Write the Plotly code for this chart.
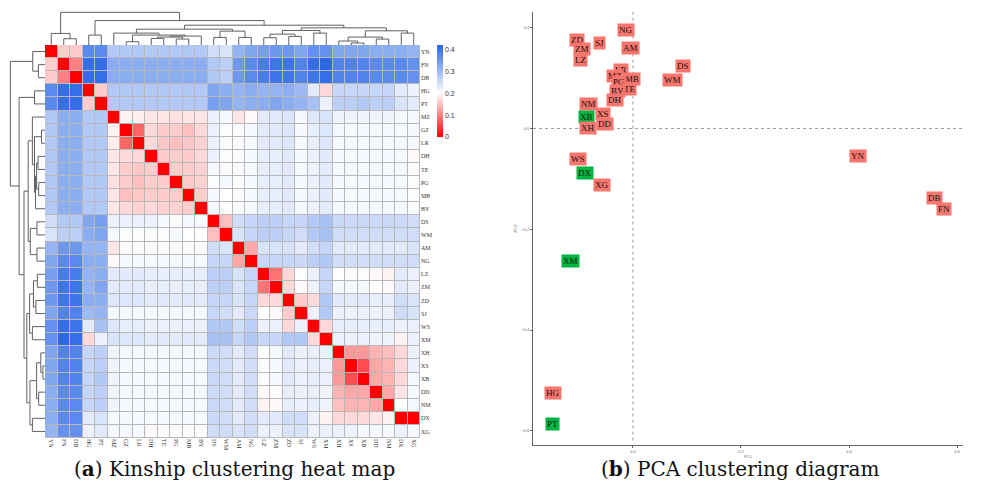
import plotly.graph_objects as go

# ---------------- data ----------------
labels = ["YN","FN","DB","HG","PT","MZ","GZ","LR","DH","TE","PG","MB","BY","DS","WM",
          "AM","NG","LZ","ZM","ZD","SJ","WS","XM","XH","XS","XB","DD","NM","DX","XG"]

kinship = [
 [0,.16,.16,.37,.37,.28,.28,.28,.28,.28,.28,.28,.28,.25,.24,.31,.33,.34,.35,.35,.33,.36,.36,.33,.33,.33,.32,.32,.32,.31],
 [.16,0,.10,.41,.41,.32,.32,.32,.32,.32,.32,.32,.32,.28,.27,.35,.37,.39,.40,.40,.38,.41,.42,.38,.38,.38,.37,.37,.37,.36],
 [.16,.10,0,.41,.41,.32,.32,.32,.32,.32,.32,.32,.32,.28,.27,.35,.37,.39,.40,.40,.38,.40,.41,.38,.38,.38,.37,.37,.37,.36],
 [.37,.41,.41,0,.16,.28,.28,.28,.28,.28,.28,.28,.28,.33,.32,.31,.32,.31,.31,.32,.30,.23,.17,.26,.26,.26,.26,.26,.23,.22],
 [.37,.41,.41,.16,0,.28,.28,.28,.28,.28,.28,.28,.28,.34,.33,.31,.32,.32,.33,.32,.31,.29,.22,.27,.27,.28,.27,.27,.24,.23],
 [.28,.32,.32,.28,.28,0,.19,.185,.18,.18,.175,.18,.18,.22,.21,.18,.195,.23,.23,.235,.21,.235,.24,.215,.215,.215,.215,.215,.21,.21],
 [.28,.32,.32,.28,.28,.19,0,.08,.17,.16,.16,.15,.17,.22,.205,.205,.21,.23,.23,.235,.21,.225,.235,.21,.21,.21,.21,.21,.21,.21],
 [.28,.32,.32,.28,.28,.185,.08,0,.17,.155,.15,.155,.165,.22,.205,.205,.21,.23,.23,.235,.21,.225,.235,.21,.21,.21,.21,.21,.21,.21],
 [.28,.32,.32,.28,.28,.18,.17,.17,0,.16,.16,.16,.17,.22,.205,.205,.21,.225,.225,.23,.21,.22,.23,.21,.21,.21,.21,.21,.21,.195],
 [.28,.32,.32,.28,.28,.18,.16,.155,.16,0,.16,.16,.165,.21,.205,.205,.21,.225,.225,.23,.21,.22,.23,.21,.21,.21,.21,.21,.21,.205],
 [.28,.32,.32,.28,.28,.175,.16,.15,.16,.16,0,.16,.165,.205,.21,.205,.21,.225,.225,.23,.21,.22,.23,.21,.21,.21,.21,.21,.21,.205],
 [.28,.32,.32,.28,.28,.18,.15,.155,.16,.16,.16,0,.16,.21,.20,.205,.21,.225,.225,.23,.21,.22,.23,.21,.21,.21,.21,.21,.21,.205],
 [.28,.32,.32,.28,.28,.18,.17,.165,.17,.165,.165,.16,0,.21,.20,.205,.21,.225,.225,.23,.21,.22,.23,.21,.21,.21,.21,.21,.21,.205],
 [.25,.28,.28,.33,.34,.22,.22,.22,.22,.21,.205,.21,.21,0,.15,.25,.26,.27,.27,.26,.26,.28,.29,.255,.255,.255,.255,.255,.255,.25],
 [.24,.27,.27,.32,.33,.21,.205,.205,.205,.205,.21,.20,.20,.15,0,.24,.26,.27,.27,.26,.25,.28,.29,.25,.25,.25,.25,.25,.25,.25],
 [.31,.35,.35,.31,.31,.18,.205,.205,.205,.205,.205,.205,.205,.25,.24,0,.13,.24,.24,.24,.23,.25,.26,.23,.23,.23,.23,.23,.23,.24],
 [.33,.37,.37,.32,.32,.195,.21,.21,.21,.21,.21,.21,.21,.26,.26,.13,0,.26,.26,.26,.255,.27,.28,.25,.25,.25,.25,.25,.25,.25],
 [.34,.39,.39,.31,.32,.23,.23,.23,.225,.225,.225,.225,.225,.27,.27,.24,.26,0,.09,.17,.20,.22,.26,.20,.205,.205,.195,.19,.23,.22],
 [.35,.40,.40,.31,.33,.23,.23,.23,.225,.225,.225,.225,.225,.27,.27,.24,.26,.09,0,.17,.195,.22,.26,.21,.21,.21,.20,.195,.23,.22],
 [.35,.40,.40,.32,.32,.235,.235,.235,.23,.23,.23,.23,.23,.26,.26,.24,.26,.17,.17,0,.16,.17,.28,.23,.23,.23,.225,.225,.25,.24],
 [.33,.38,.38,.30,.31,.21,.21,.21,.21,.21,.21,.21,.21,.26,.25,.23,.255,.20,.195,.16,0,.22,.28,.22,.22,.22,.22,.22,.25,.24],
 [.36,.41,.40,.23,.29,.235,.225,.225,.22,.22,.22,.22,.22,.28,.28,.25,.27,.22,.22,.17,.22,0,.17,.225,.225,.225,.225,.225,.22,.22],
 [.36,.42,.41,.17,.22,.24,.235,.235,.23,.23,.23,.23,.23,.29,.29,.26,.28,.26,.26,.28,.28,.17,0,.22,.22,.22,.215,.215,.19,.22],
 [.33,.38,.38,.26,.27,.215,.21,.21,.21,.21,.21,.21,.21,.255,.25,.23,.25,.20,.21,.23,.22,.225,.22,0,.12,.12,.14,.15,.17,.22],
 [.33,.38,.38,.26,.27,.215,.21,.21,.21,.21,.21,.21,.21,.255,.25,.23,.25,.205,.21,.23,.22,.225,.22,.12,0,.06,.13,.14,.17,.22],
 [.33,.38,.38,.26,.28,.215,.21,.21,.21,.21,.21,.21,.21,.255,.25,.23,.25,.205,.21,.23,.22,.225,.22,.12,.06,0,.13,.14,.17,.21],
 [.32,.37,.37,.26,.27,.215,.21,.21,.21,.21,.21,.21,.21,.255,.25,.23,.25,.195,.20,.225,.22,.225,.215,.14,.13,.13,0,.13,.18,.21],
 [.32,.37,.37,.26,.27,.215,.21,.21,.21,.21,.21,.21,.21,.255,.25,.23,.25,.19,.195,.225,.22,.225,.215,.15,.14,.14,.13,0,.20,.21],
 [.32,.37,.37,.23,.24,.21,.21,.21,.21,.21,.21,.21,.21,.255,.25,.23,.25,.23,.23,.25,.25,.22,.19,.17,.17,.17,.18,.19,0,0],
 [.31,.36,.36,.22,.23,.21,.21,.21,.195,.205,.205,.205,.205,.25,.25,.24,.25,.22,.22,.24,.24,.22,.22,.22,.22,.21,.21,.21,.22,.21],
]

# dendrogram merges: (child_a, child_b, relative height); merge i is named "m<i>"
merges = [
 ("FN","DB",0.19), ("YN","m0",0.35), ("HG","PT",0.30), ("GZ","LR",0.10),
 ("PG","MB",0.18), ("DH","TE",0.20), ("m5","m4",0.24), ("m6","BY",0.27),
 ("m3","m7",0.30), ("MZ","m8",0.36), ("DS","WM",0.23), ("AM","NG",0.23),
 ("m10","m11",0.42), ("m9","m12",0.48), ("LZ","ZM",0.22), ("ZD","SJ",0.26),
 ("m14","m15",0.33), ("WS","XM",0.36), ("m16","m17",0.44), ("XS","XB",0.06),
 ("XH","m19",0.12), ("DD","NM",0.18), ("m20","m21",0.24), ("DX","XG",0.36),
 ("m22","m23",0.43), ("m18","m24",0.52), ("m13","m25",0.60), ("m2","m26",0.74),
 ("m1","m27",0.99),
]

pca_labels = ["NG","ZD","ZM","SJ","AM","LZ","DS","WM","LR","MZ","MB","PG","TE","BY","DH",
              "NM","XS","XB","DD","XH","WS","DX","XG","YN","DB","FN","XM","HG","PT"]
pca_pc1 = [-0.012,-0.104,-0.095,-0.061,-0.004,-0.098,0.092,0.073,-0.023,-0.033,-0.001,-0.025,-0.006,-0.028,-0.033,
           -0.083,-0.055,-0.086,-0.052,-0.083,-0.101,-0.089,-0.057,0.416,0.558,0.576,-0.115,-0.148,-0.148]
pca_pc2 = [0.196,0.176,0.158,0.170,0.160,0.135,0.124,0.097,0.115,0.105,0.099,0.092,0.078,0.074,0.056,
           0.048,0.029,0.022,0.009,0.001,-0.060,-0.089,-0.113,-0.054,-0.138,-0.160,-0.262,-0.525,-0.587]
pca_group = ["A","A","A","A","A","A","A","A","A","A","A","A","A","A","A",
             "A","A","B","A","A","A","B","A","A","A","A","B","A","B"]

pc_ticks = [-0.6, -0.4, -0.2, 0.0, 0.2]
pc1_ticks = [0.0, 0.2, 0.4, 0.6]
cbar_ticks = [0, 0.1, 0.2, 0.3, 0.4]

# ---------------- layout helpers ----------------
W, H = 996, 489
def fx(x): return x / W
def fy(y): return 1 - y / H

HM_L, HM_R, HM_T, HM_B = 45, 420, 45, 438
n = len(labels)

def dendro_lines(merges):
    pos = {lab: (i, 0.0) for i, lab in enumerate(labels)}
    cs, hs = [], []
    for i, (a, b, h) in enumerate(merges):
        xa, ha = pos[a]
        xb, hb = pos[b]
        cs += [xa, xa, xb, xb, None]
        hs += [ha, h, h, hb, None]
        pos["m%d" % i] = ((xa + xb) / 2, h)
    return cs, hs

dc, dh = dendro_lines(merges)

fig = go.Figure()

# heatmap
fig.add_trace(go.Heatmap(
    z=kinship, x=list(range(n)), y=list(range(n)),
    colorscale=[[0, "#ff0000"], [0.2 / 0.42, "#ffffff"], [1, "#2a68e6"]],
    zmin=0, zmax=0.42, xgap=1, ygap=1, hoverinfo="skip",
    colorbar=dict(x=fx(437), xanchor="left", y=fy(45), yanchor="top",
                  len=92, lenmode="pixels", thickness=6, thicknessmode="pixels",
                  outlinewidth=0, xpad=0, ypad=0, tickvals=cbar_ticks,
                  ticks="", tickfont=dict(size=7, color="#333", family="Liberation Sans")),
    xaxis="x", yaxis="y"))

# top dendrogram
fig.add_trace(go.Scatter(x=dc, y=dh, mode="lines", line=dict(color="#606060", width=1),
                         hoverinfo="skip", showlegend=False, xaxis="x2", yaxis="y2"))
# left dendrogram
fig.add_trace(go.Scatter(x=dh, y=dc, mode="lines", line=dict(color="#606060", width=1),
                         hoverinfo="skip", showlegend=False, xaxis="x3", yaxis="y3"))

# PCA invisible anchors
fig.add_trace(go.Scatter(x=pca_pc1, y=pca_pc2, mode="markers", marker=dict(size=1, opacity=0),
                         hoverinfo="skip", showlegend=False, xaxis="x4", yaxis="y4"))

annotations = []
for lab, x, y, g in zip(pca_labels, pca_pc1, pca_pc2, pca_group):
    annotations.append(dict(x=x, y=y, xref="x4", yref="y4", text=lab, showarrow=False,
                            bgcolor="#F8766D" if g == "A" else "#00B53F",
                            font=dict(family="Liberation Serif", size=9, color="#111"),
                            borderpad=1))

annotations.append(dict(x=fx(234), y=fy(469), xref="paper", yref="paper",
                        xanchor="center", yanchor="middle",
                        text="(<b>a</b>) Kinship clustering heat map", showarrow=False,
                        font=dict(family="DejaVu Serif", size=20, color="#111")))
annotations.append(dict(x=fx(740), y=fy(469), xref="paper", yref="paper",
                        xanchor="center", yanchor="middle",
                        text="(<b>b</b>) PCA clustering diagram", showarrow=False,
                        font=dict(family="DejaVu Serif", size=20, color="#111")))

shapes = [
    dict(type="rect", xref="x", yref="y", x0=-0.5, x1=n - 0.5, y0=-0.5, y1=n - 0.5,
         fillcolor="#b8b8b8", line=dict(width=0), layer="below"),
    dict(type="line", xref="x4", yref="y4 domain", x0=0, x1=0, y0=0.01, y1=1,
         line=dict(color="#999", width=1, dash="dot")),
    dict(type="line", xref="x4 domain", yref="y4", x0=0, x1=1, y0=0, y1=0,
         line=dict(color="#999", width=1, dash="dot")),
]

tick_font = dict(family="Liberation Serif", size=6, color="#333")
small = dict(family="Liberation Sans", size=4, color="#666")

fig.update_layout(
    width=W, height=H, margin=dict(l=0, r=0, t=0, b=0),
    paper_bgcolor="white", plot_bgcolor="white", showlegend=False,
    annotations=annotations, shapes=shapes,
    xaxis=dict(domain=[fx(HM_L), fx(HM_R)], range=[-0.5, n - 0.5], tickvals=list(range(n)),
               ticktext=labels, tickangle=90, tickfont=tick_font, showgrid=False,
               zeroline=False, ticks="", showline=False, anchor="y"),
    yaxis=dict(domain=[fy(HM_B), fy(HM_T)], range=[n - 0.5, -0.5], tickvals=list(range(n)),
               ticktext=labels, side="right", tickfont=tick_font, showgrid=False,
               zeroline=False, ticks="", showline=False, anchor="x"),
    xaxis2=dict(domain=[fx(HM_L), fx(HM_R)], range=[-0.5, n - 0.5], visible=False, anchor="y2"),
    yaxis2=dict(domain=[fy(HM_T), fy(10)], range=[0, 35 / 33], visible=False, anchor="x2"),
    xaxis3=dict(domain=[fx(8), fx(HM_L)], range=[37 / 35, 0], visible=False, anchor="y3"),
    yaxis3=dict(domain=[fy(HM_B), fy(HM_T)], range=[n - 0.5, -0.5], visible=False, anchor="x3"),
    xaxis4=dict(domain=[fx(533), fx(963)], range=[-0.185, 0.611], tickvals=pc1_ticks,
                tickformat=".1f", tickfont=small, showgrid=False, zeroline=False,
                showline=True, linecolor="#666", linewidth=1, ticks="outside", ticklen=2,
                tickcolor="#666", anchor="y4",
                title=dict(text="PC1", font=small, standoff=1)),
    yaxis4=dict(domain=[fy(445), fy(12)], range=[-0.628, 0.231], tickvals=pc_ticks,
                tickformat=".1f", tickfont=small, showgrid=False, zeroline=False,
                showline=True, linecolor="#666", linewidth=1, ticks="outside", ticklen=2,
                tickcolor="#666", anchor="x4",
                title=dict(text="PC2", font=small, standoff=3)),
)

fig.write_html("out.html")
